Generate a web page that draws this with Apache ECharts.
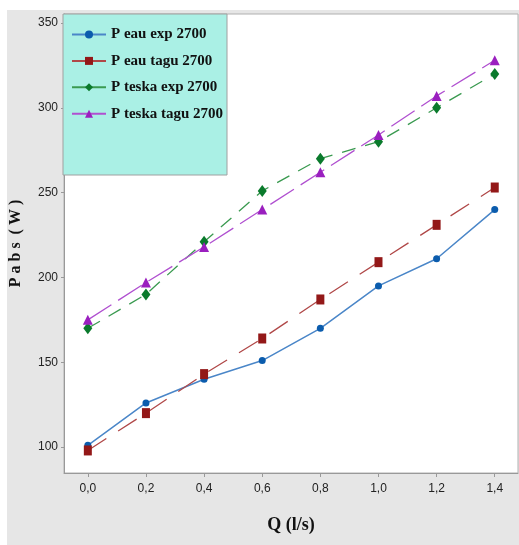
<!DOCTYPE html>
<html><head><meta charset="utf-8">
<script src="https://cdn.jsdelivr.net/npm/echarts@6/dist/echarts.min.js"></script>
<style>html,body{margin:0;padding:0;background:#fff}#c{width:519px;height:545px}</style>
</head><body><div id="c"></div>
<script>
const qValues = [0, 0.2, 0.4, 0.6, 0.8, 1.0, 1.2, 1.4];
const yTicks = [100, 150, 200, 250, 300, 350];
const seriesNames = ['P eau exp 2700', 'P eau tagu 2700', 'P teska exp 2700', 'P teska tagu 2700'];
const pEauExp = [101, 126, 140, 151, 170, 195, 211, 240];
const pEauTagu = [98, 120, 143, 164, 187, 209, 231, 253];
const pTeskaExp = [170, 190, 221, 251, 270, 280, 300, 320];
const pTeskaTagu = [175, 197, 218, 240, 262, 284, 307, 328];

const serif = '"Liberation Serif", "DejaVu Serif", serif';
const narrow = '"Liberation Sans Narrow", "Liberation Sans", Arial, sans-serif';
function pairs(v){ return qValues.map((q,i)=>[q, v[i]]); }

const chart = echarts.init(document.getElementById('c'));
chart.setOption({
  animation: false,
  backgroundColor: '#ffffff',
  graphic: [
    {type:'rect', shape:{x:7,y:10,width:512,height:535}, style:{fill:'#e6e6e6'}, z:-10, silent:true},
    {type:'rect', shape:{x:63,y:14,width:164,height:161}, style:{fill:'#aaf0e5', stroke:'#a0a0a0', lineWidth:1}, z:100, silent:true}
  ],
  grid: {left:63, top:14, right:1, bottom:72, show:true, backgroundColor:'#ffffff', borderColor:'#b0b0b0', borderWidth:1},
  legend: {
    orient:'vertical', left:66, top:22, itemWidth:34, itemHeight:10, itemGap:11.4, z:200,
    data: seriesNames,
    lineStyle:{type:'solid'},
    textStyle:{fontFamily:serif, fontWeight:'bold', fontSize:15, color:'#111'}
  },
  xAxis: {
    type:'value', min:-0.082, max:1.48,
    name:'Q (l/s)', nameLocation:'middle', nameGap:43,
    nameTextStyle:{fontFamily:serif, fontWeight:'bold', fontSize:18, color:'#111'},
    axisLine:{show:true, onZero:false, lineStyle:{color:'#999'}},
    axisTick:{show:true, customValues:qValues, length:4, lineStyle:{color:'#999'}},
    axisLabel:{customValues:qValues, formatter:v=>v.toFixed(1).replace('.',','), fontFamily:narrow, fontSize:12, color:'#222', margin:10},
    splitLine:{show:false}
  },
  yAxis: {
    type:'value', min:84.7, max:355.3,
    name:'P a b s  ( W )', nameLocation:'middle', nameGap:40, nameRotate:90,
    nameTextStyle:{fontFamily:serif, fontWeight:'bold', fontSize:16, color:'#111'},
    axisLine:{show:true, onZero:false, lineStyle:{color:'#999'}},
    axisTick:{show:true, customValues:yTicks, length:3, lineStyle:{color:'#999'}},
    axisLabel:{customValues:yTicks, fontFamily:narrow, fontSize:12, color:'#222', margin:6},
    splitLine:{show:false}
  },
  series: [
    {name:seriesNames[0], type:'line', data:pairs(pEauExp), symbol:'circle', symbolSize:7,
     itemStyle:{color:'#0b5cad'}, lineStyle:{color:'#4a86c8', width:1.5, type:'solid'}},
    {name:seriesNames[1], type:'line', data:pairs(pEauTagu), symbol:'rect', symbolSize:[8,10],
     itemStyle:{color:'#931818'}, lineStyle:{color:'#b04848', width:1.3, type:[22,14]}},
    {name:seriesNames[2], type:'line', data:pairs(pTeskaExp), symbol:'diamond', symbolSize:[9,12],
     itemStyle:{color:'#0a7a2c'}, lineStyle:{color:'#3a9a50', width:1.3, type:[14,10]}},
    {name:seriesNames[3], type:'line', data:pairs(pTeskaTagu), symbol:'triangle', symbolSize:[10,10],
     itemStyle:{color:'#9a1fbf'}, lineStyle:{color:'#b050d0', width:1.3, type:[28,8]}}
  ]
});
</script></body></html>
